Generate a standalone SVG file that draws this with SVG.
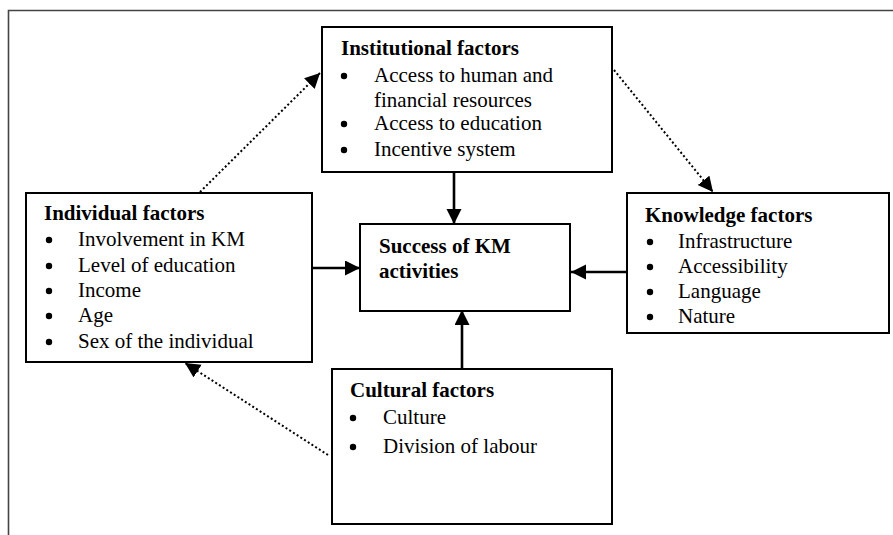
<svg xmlns="http://www.w3.org/2000/svg" width="893" height="535" viewBox="0 0 893 535">
  <style>
    .box { fill: #fff; stroke: #000; stroke-width: 2; }
    .title { font-family: "Liberation Serif", "Times New Roman", serif; font-weight: bold; font-size: 21px; fill: #000; }
    .item { font-family: "Liberation Serif", "Times New Roman", serif; font-size: 21px; fill: #000; }
    .solid { stroke: #000; stroke-width: 2.6; fill: none; }
    .dotted { stroke: #000; stroke-width: 2; stroke-dasharray: 2 2.4; fill: none; }
    .frame { stroke: #444; stroke-width: 1.6; fill: none; }
  </style>
  <defs>
    <marker id="arrow" markerUnits="userSpaceOnUse" markerWidth="16" markerHeight="16" refX="15" refY="7.5" orient="auto">
      <path d="M0,0 L15,7.5 L0,15 Z" fill="#000"/>
    </marker>
  </defs>

  <rect width="893" height="535" fill="#fff"/>
  <path class="frame" d="M8.5,535 V10.5 H893"/>

  <g id="connectors">
    <line class="solid" x1="454" y1="172" x2="454" y2="224" marker-end="url(#arrow)"/>
    <line class="solid" x1="312" y1="268" x2="360" y2="268" marker-end="url(#arrow)"/>
    <line class="solid" x1="627" y1="272" x2="571" y2="272" marker-end="url(#arrow)"/>
    <line class="solid" x1="462" y1="369" x2="462" y2="310" marker-end="url(#arrow)"/>
    <line class="dotted" x1="200" y1="192" x2="320" y2="73" marker-end="url(#arrow)"/>
    <line class="dotted" x1="614" y1="70" x2="713" y2="192" marker-end="url(#arrow)"/>
    <line class="dotted" x1="328" y1="455" x2="185" y2="363" marker-end="url(#arrow)"/>
  </g>

  <g id="institutional">
    <rect class="box" x="322" y="27" width="290" height="145"/>
    <text class="title" x="341" y="55">Institutional factors</text>
    <circle cx="344" cy="76" r="3.2"/>
    <text class="item" x="374" y="82">Access to human and</text>
    <text class="item" x="374" y="107">financial resources</text>
    <circle cx="344" cy="124" r="3.2"/>
    <text class="item" x="374" y="130">Access to education</text>
    <circle cx="344" cy="150" r="3.2"/>
    <text class="item" x="374" y="156">Incentive system</text>
  </g>

  <g id="individual">
    <rect class="box" x="26" y="193" width="286" height="169"/>
    <text class="title" x="44" y="220">Individual factors</text>
    <circle cx="49" cy="240" r="3.2"/>
    <text class="item" x="78" y="246">Involvement in KM</text>
    <circle cx="49" cy="266" r="3.2"/>
    <text class="item" x="78" y="272">Level of education</text>
    <circle cx="49" cy="291" r="3.2"/>
    <text class="item" x="78" y="297">Income</text>
    <circle cx="49" cy="316" r="3.2"/>
    <text class="item" x="78" y="322">Age</text>
    <circle cx="49" cy="342" r="3.2"/>
    <text class="item" x="78" y="348">Sex of the individual</text>
  </g>

  <g id="success">
    <rect class="box" x="360" y="224" width="210" height="87"/>
    <text class="title" x="379" y="253">Success of KM</text>
    <text class="title" x="379" y="278">activities</text>
  </g>

  <g id="knowledge">
    <rect class="box" x="627" y="193" width="262" height="140"/>
    <text class="title" x="645" y="222">Knowledge factors</text>
    <circle cx="650" cy="242" r="3.2"/>
    <text class="item" x="678" y="248">Infrastructure</text>
    <circle cx="650" cy="267" r="3.2"/>
    <text class="item" x="678" y="273">Accessibility</text>
    <circle cx="650" cy="292" r="3.2"/>
    <text class="item" x="678" y="298">Language</text>
    <circle cx="650" cy="317" r="3.2"/>
    <text class="item" x="678" y="323">Nature</text>
  </g>

  <g id="cultural">
    <rect class="box" x="332" y="369" width="280" height="155"/>
    <text class="title" x="350" y="397">Cultural factors</text>
    <circle cx="353" cy="418" r="3.2"/>
    <text class="item" x="383" y="424">Culture</text>
    <circle cx="353" cy="447" r="3.2"/>
    <text class="item" x="383" y="453">Division of labour</text>
  </g>
</svg>
